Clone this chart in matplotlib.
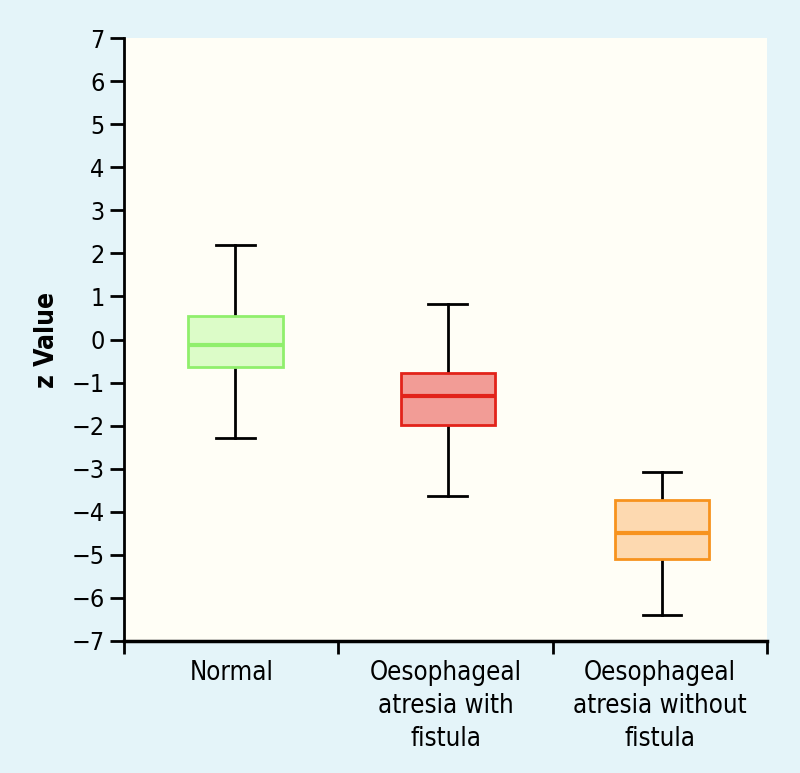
import matplotlib
matplotlib.use("Agg")
import matplotlib.pyplot as plt

plt.rcParams['font.family'] = ['DejaVu Sans']
plt.rcParams['font.stretch'] = 'condensed'

# ------------------ dades llegides del grafic -----------------
groups = ['Normal', 'Oesophageal\natresia with\nfistula', 'Oesophageal\natresia without\nfistula']
whislo = [-2.29, -3.63, -6.40]
q1 = [-0.64, -1.98, -5.09]
med = [-0.13, -1.31, -4.49]
q3 = [0.55, -0.78, -3.73]
whishi = [2.19, 0.82, -3.08]

face_colors = ['#dcfcc8', '#f29c96', '#fdd9b0']
edge_colors = ['#90ef6c', '#e2231a', '#f7931e']

fig = plt.figure(figsize=(8, 7.73), dpi=100, facecolor='#e4f4f9')
ax = fig.add_axes([0.155, 0.1708, 0.804, 0.78])
ax.set_facecolor('#fffef6')

stats = []
for i in range(len(groups)):
    stats.append({'whislo': whislo[i], 'q1': q1[i], 'med': med[i],
                  'q3': q3[i], 'whishi': whishi[i], 'fliers': []})

positions = [0.52, 1.51, 2.51]
bp = ax.bxp(stats, positions=positions, widths=0.44, patch_artist=True,
            showfliers=False, capwidths=0.18)

for i in range(len(groups)):
    bp['boxes'][i].set_facecolor(face_colors[i])
    bp['boxes'][i].set_edgecolor(edge_colors[i])
    bp['boxes'][i].set_linewidth(2)
    bp['medians'][i].set_color(edge_colors[i])
    bp['medians'][i].set_linewidth(3)
for w in bp['whiskers'] + bp['caps']:
    w.set_color('black')
    w.set_linewidth(2)
    w.set_zorder(1)

ax.set_xlim(0, 3)
ax.set_ylim(-7, 7)
ax.set_yticks(range(-7, 8))
ax.set_xticks([0, 1, 2, 3])
ax.set_xticklabels([])
ax.set_xticks([0.5, 1.5, 2.5], minor=True)
ax.set_xticklabels(groups, minor=True, fontsize=18.5, linespacing=1.35)
ax.tick_params(axis='x', which='minor', length=0, pad=14)
ax.tick_params(axis='x', which='major', length=9, width=2, direction='out')
ax.tick_params(axis='y', length=10, width=2, labelsize=18, pad=4)

for s in ['top', 'right']:
    ax.spines[s].set_visible(False)
ax.spines['left'].set_linewidth(2)
ax.spines['bottom'].set_linewidth(2.5)

ax.set_ylabel('z Value', fontsize=19, fontweight='bold', labelpad=8)

plt.savefig('out.png', dpi=100, facecolor=fig.get_facecolor())
